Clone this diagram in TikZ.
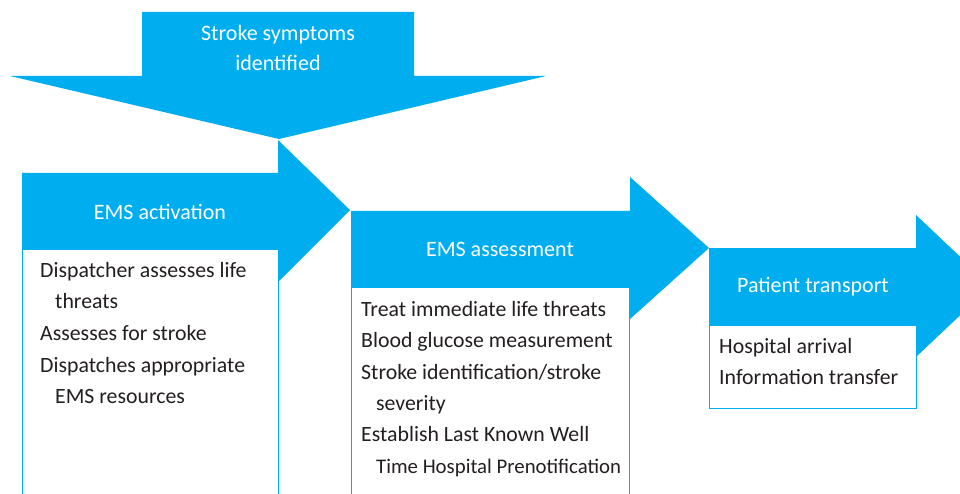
\documentclass[tikz,border=0pt]{standalone}
\usepackage{fontspec}
\setmainfont{Carlito}
\definecolor{emsblue}{HTML}{00AEEF}
\definecolor{bodytext}{HTML}{231F20}
\newcommand{\cont}{\hspace*{15pt}}

\begin{document}
\begin{tikzpicture}[
  x=1pt, y=-1pt,
  stage/.style={fill=emsblue, draw=none},
  stagetext/.style={text=white, font=\fontsize{22}{30}\selectfont, align=center, inner sep=0pt},
  listbox/.style={fill=white, draw=emsblue, line width=1pt},
  items/.style={anchor=north west, align=left, inner sep=0pt, text=bodytext, font=\fontsize{21.8}{31.4}\selectfont}
]
\useasboundingbox (0,0) rectangle (960,494);
\clip (0,0) rectangle (960,494);
% list boxes
\draw[listbox] (22,249) rectangle (278,500);
\draw[listbox] (351,287) rectangle (629,500);
\draw[listbox] (709,325) rectangle (916,408);
% stage arrows
\fill[stage] (142,12) -- (414,12) -- (414,76) -- (546,76) -- (279,139) -- (10,76) -- (142,76) -- cycle;
\fill[stage] (22,173) -- (278,173) -- (278,140) -- (350,210) -- (278,282) -- (278,249) -- (22,249) -- cycle;
\fill[stage] (351,211) -- (630,211) -- (630,177) -- (709,248) -- (630,319) -- (630,287) -- (351,287) -- cycle;
\fill[stage] (709,248) -- (916,248) -- (916,215) -- (991,286) -- (916,357) -- (916,325) -- (709,325) -- cycle;
% stage titles
\node[stagetext] (symptoms) at (278,48) {Stroke symptoms\\identified};
\node[stagetext] (activation) at (160,212) {EMS activation};
\node[stagetext] (assessment) at (500,249) {EMS assessment};
\node[stagetext] (transport) at (813,287) {Patient transport};
% list texts
\node[items, font=\fontsize{21.8}{31.6}\selectfont] (activationitems) at (40,262) {Dispatcher assesses life\\\cont threats\\Assesses for stroke\\Dispatches appropriate\\\cont EMS resources};
\node[items] (assessmentitems) at (361,301) {Treat immediate life threats\\Blood glucose measurement\\Stroke identification/stroke\\\cont severity\\Establish Last Known Well\\\cont {\fontsize{20.8}{31.4}\selectfont Time Hospital Prenotification}};
\node[items] (transportitems) at (719,338) {Hospital arrival\\Information transfer};
\end{tikzpicture}
\end{document}
